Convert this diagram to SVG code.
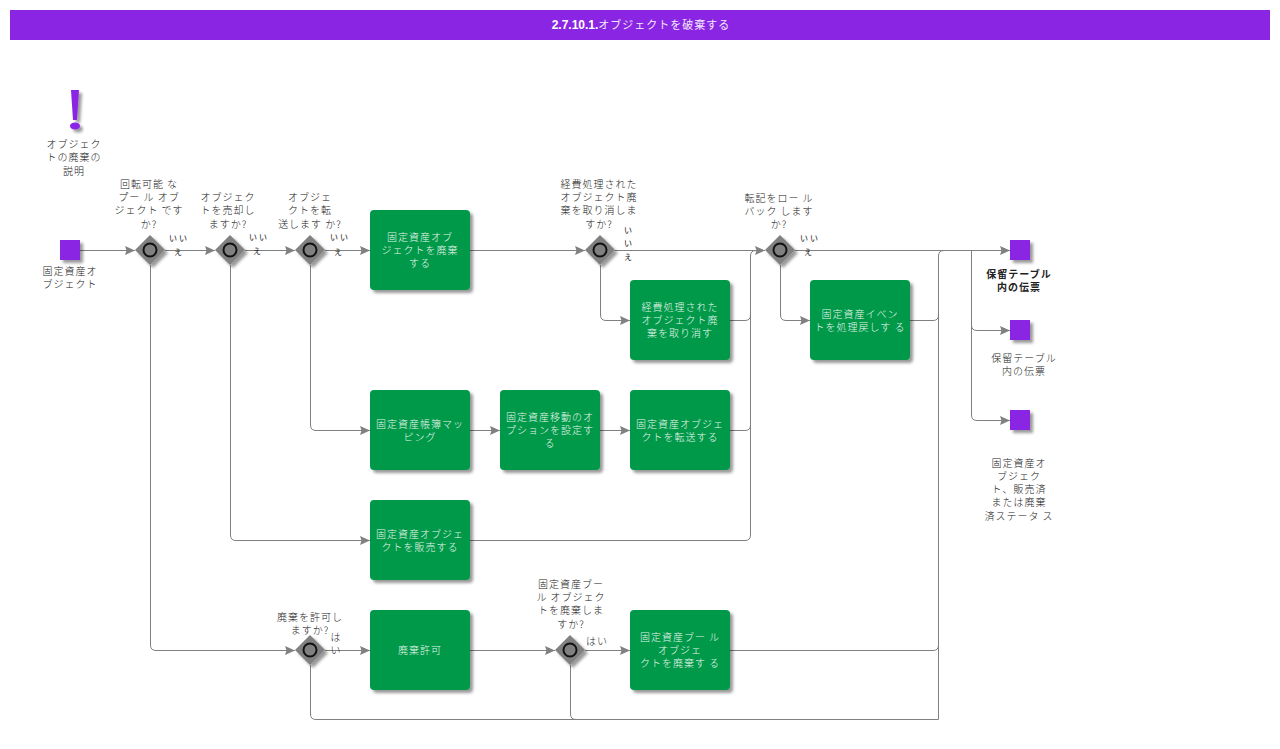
<svg xmlns="http://www.w3.org/2000/svg" width="1280" height="749" viewBox="0 0 1280 749">
<style>
text{font-family:"Noto Sans CJK JP","Liberation Sans",sans-serif;font-size:10px;font-weight:300;letter-spacing:1px;text-anchor:middle;fill:#222}
.w{fill:#e6f6ec}
.s{font-size:8px;letter-spacing:2px;font-weight:400;fill:#111}
.b{font-weight:bold;fill:#222}
.t{font-family:"Liberation Sans","Noto Sans CJK JP",sans-serif;font-size:12px;font-weight:bold;fill:#fff;letter-spacing:0}
.tj{font-family:"Noto Sans CJK JP",sans-serif;font-size:11px;font-weight:400;letter-spacing:1px;fill:#f2e8fc}
.task{fill:#009948}
.sq{fill:#8a26e3}
.gw{fill:#808080}
.ring{fill:#808080;stroke:#111;stroke-width:2}
.c{fill:none;stroke:#808080;stroke-width:1}
.a{marker-end:url(#ah)}
</style>
<defs>
<marker id="ah" markerUnits="userSpaceOnUse" markerWidth="12" markerHeight="10" refX="10" refY="4.500" orient="auto"><path d="M0 0L10 4.500L0 9L1.500 4.500Z" fill="#808080"/></marker>
<filter id="sh" x="-30%" y="-30%" width="170%" height="170%"><feDropShadow dx="3" dy="3" stdDeviation="1.800" flood-color="#000" flood-opacity=".4"/></filter>
</defs>
<rect width="1280" height="749" fill="#fff"/>
<g id="title"><rect class="sq" x="10" y="10" width="1260" height="30"/><text class="t" x="641" y="29">2.7.10.1.<tspan class="tj">オブジェクトを破棄する</tspan></text></g>
<g id="connectors">
<path class="c a" d="M80 250.500H135"/>
<path class="c a" d="M165 250.500H215"/>
<path class="c a" d="M245 250.500H295"/>
<path class="c a" d="M325 250.500H370"/>
<path class="c a" d="M470 250.500H585"/>
<path class="c a" d="M615 250.500H765"/>
<path class="c a" d="M795 250.500H1010"/>
<path class="c a" d="M150.500 265V645Q150.500 650.500 156 650.500H295"/>
<path class="c a" d="M230.500 265V535Q230.500 540.500 236 540.500H370"/>
<path class="c a" d="M310.500 265V425Q310.500 430.500 316 430.500H370"/>
<path class="c a" d="M470 430.500H500"/>
<path class="c a" d="M600 430.500H630"/>
<path class="c" d="M730 430.500H745Q750.500 430.500 750.500 425"/>
<path class="c" d="M730 320.500H745Q750.500 320.500 750.500 315"/>
<path class="c" d="M470 540.500H745Q750.500 540.500 750.500 535V256Q750.500 250.500 756 250.500"/>
<path class="c a" d="M600.500 265V315Q600.500 320.500 606 320.500H630"/>
<path class="c a" d="M780.500 265V315Q780.500 320.500 786 320.500H810"/>
<path class="c" d="M910 320.500H933Q938.500 320.500 938.500 315"/>
<path class="c" d="M730 650.500H933Q938.500 650.500 938.500 645"/>
<path class="c" d="M310.500 665V714Q310.500 719.500 316 719.500H938.500V256Q938.500 250.500 944 250.500"/>
<path class="c" d="M570.500 665V714Q570.500 719.500 576 719.500"/>
<path class="c a" d="M971.500 250.500V325Q971.500 330.500 977 330.500H1010"/>
<path class="c a" d="M971.500 325V415Q971.500 420.500 977 420.500H1010"/>
<path class="c a" d="M325 650.500H370"/>
<path class="c a" d="M470 650.500H555"/>
<path class="c a" d="M585 650.500H630"/>
</g>
<g id="note"><path class="sq" filter="url(#sh)" d="M71 90H79L77 120H73ZM75 122.500C78 122.500 80 124 80 126S78 129.500 75 129.500S70 128 70 126S72 122.500 75 122.500Z"/><text x="74" y="148">オブジェク</text><text x="74" y="161">トの廃棄の</text><text x="74" y="175">説明</text></g>
<g id="start"><rect class="sq" filter="url(#sh)" x="60" y="240" width="20" height="20"/><text x="70" y="275">固定資産オ</text><text x="70" y="288">ブジェクト</text></g>
<g id="gw1"><path class="gw" filter="url(#sh)" d="M150 235L165 250L150 265L135 250Z"/><circle class="ring" cx="150" cy="250" r="6.500"/><text x="149" y="188">回転可能 な</text><text x="149" y="201">プー ル オブ</text><text x="149" y="214">ジェクト です</text><text x="149" y="228">か?</text><text class="s" x="179" y="241">いい</text><text class="s" x="179" y="255">え</text></g>
<g id="gw2"><path class="gw" filter="url(#sh)" d="M230 235L245 250L230 265L215 250Z"/><circle class="ring" cx="230" cy="250" r="6.500"/><text x="228" y="201">オブジェク</text><text x="228" y="214">トを売却し</text><text x="228" y="228">ますか?</text><text class="s" x="259" y="240">いい</text><text class="s" x="258" y="254">え</text></g>
<g id="gw3"><path class="gw" filter="url(#sh)" d="M310 235L325 250L310 265L295 250Z"/><circle class="ring" cx="310" cy="250" r="6.500"/><text x="310" y="201">オブジェ</text><text x="310" y="214">クトを転</text><text x="310" y="228">送します か?</text><text class="s" x="340" y="240">いい</text><text class="s" x="339" y="255">え</text></g>
<g id="n1"><rect class="task" filter="url(#sh)" x="370" y="210" width="100" height="80" rx="4"/><text class="w" x="420" y="241">固定資産オブ</text><text class="w" x="420" y="254">ジェクトを廃棄</text><text class="w" x="420" y="267">する</text></g>
<g id="gw4"><path class="gw" filter="url(#sh)" d="M600 235L615 250L600 265L585 250Z"/><circle class="ring" cx="600" cy="250" r="6.500"/><text x="599" y="188">経費処理された</text><text x="599" y="201">オブジェクト廃</text><text x="599" y="214">棄を取り消しま</text><text x="599" y="228">すか?</text><text class="s" x="629" y="233">い</text><text class="s" x="629" y="246">い</text><text class="s" x="629" y="260">え</text></g>
<g id="n2"><rect class="task" filter="url(#sh)" x="630" y="280" width="100" height="80" rx="4"/><text class="w" x="680" y="311">経費処理された</text><text class="w" x="680" y="324">オブジェクト廃</text><text class="w" x="680" y="337">棄を取り消す</text></g>
<g id="gw5"><path class="gw" filter="url(#sh)" d="M780 235L795 250L780 265L765 250Z"/><circle class="ring" cx="780" cy="250" r="6.500"/><text x="779" y="202">転記をロー ル</text><text x="779" y="215">バック します</text><text x="779" y="228">か?</text><text class="s" x="810" y="241">いい</text><text class="s" x="809" y="255">え</text></g>
<g id="n3"><rect class="task" filter="url(#sh)" x="810" y="280" width="100" height="80" rx="4"/><text class="w" x="860" y="318">固定資産イベン</text><text class="w" x="860" y="331">トを処理戻しす る</text></g>
<g id="end1"><rect class="sq" filter="url(#sh)" x="1010" y="240" width="20" height="20"/><text class="b" x="1019" y="278">保留テーブル</text><text class="b" x="1019" y="291">内の伝票</text></g>
<g id="end2"><rect class="sq" filter="url(#sh)" x="1010" y="320" width="20" height="20"/><text x="1024" y="362">保留テーブル</text><text x="1024" y="375">内の伝票</text></g>
<g id="end3"><rect class="sq" filter="url(#sh)" x="1010" y="410" width="20" height="20"/><text x="1019" y="467">固定資産オ</text><text x="1019" y="480">ブジェク</text><text x="1019" y="493">ト、販売済</text><text x="1019" y="506">または廃棄</text><text x="1019" y="520">済ステータ ス</text></g>
<g id="n4"><rect class="task" filter="url(#sh)" x="370" y="390" width="100" height="80" rx="4"/><text class="w" x="420" y="428">固定資産帳簿マッ</text><text class="w" x="420" y="441">ピング</text></g>
<g id="n5"><rect class="task" filter="url(#sh)" x="500" y="390" width="100" height="80" rx="4"/><text class="w" x="550" y="421">固定資産移動のオ</text><text class="w" x="550" y="434">プションを設定す</text><text class="w" x="550" y="447">る</text></g>
<g id="n6"><rect class="task" filter="url(#sh)" x="630" y="390" width="100" height="80" rx="4"/><text class="w" x="680" y="428">固定資産オブジェ</text><text class="w" x="680" y="441">クトを転送する</text></g>
<g id="n7"><rect class="task" filter="url(#sh)" x="370" y="500" width="100" height="80" rx="4"/><text class="w" x="420" y="538">固定資産オブジェ</text><text class="w" x="420" y="551">クトを販売する</text></g>
<g id="gw6"><path class="gw" filter="url(#sh)" d="M310 635L325 650L310 665L295 650Z"/><circle class="ring" cx="310" cy="650" r="6.500"/><text x="310" y="621">廃棄を許可し</text><text x="310" y="634">ますか?</text><text x="336" y="641">は</text><text x="336" y="654">い</text></g>
<g id="n8"><rect class="task" filter="url(#sh)" x="370" y="610" width="100" height="80" rx="4"/><text class="w" x="420" y="654">廃棄許可</text></g>
<g id="gw7"><path class="gw" filter="url(#sh)" d="M570 635L585 650L570 665L555 650Z"/><circle class="ring" cx="570" cy="650" r="6.500"/><text x="571" y="588">固定資産ブー</text><text x="571" y="601">ル オブジェク</text><text x="571" y="614">トを廃棄しま</text><text x="571" y="628">すか?</text><text x="597" y="645">はい</text></g>
<g id="n9"><rect class="task" filter="url(#sh)" x="630" y="610" width="100" height="80" rx="4"/><text class="w" x="680" y="641">固定資産ブー ル</text><text class="w" x="680" y="654">オブジェ</text><text class="w" x="680" y="667">クトを廃棄す る</text></g>
</svg>
